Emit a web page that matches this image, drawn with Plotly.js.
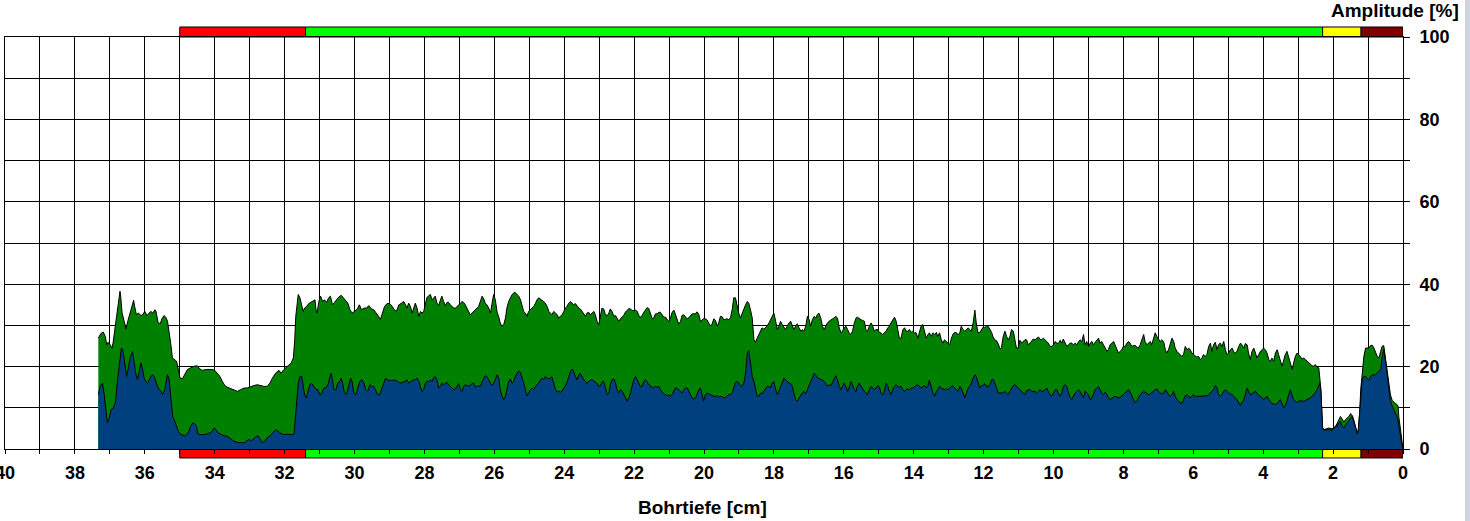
<!DOCTYPE html>
<html>
<head>
<meta charset="utf-8">
<script src="https://cdn.plot.ly/plotly-3.0.1.min.js"></script>
<style>html,body{margin:0;padding:0;background:#fff;}#chart{width:1470px;height:521px;}</style>
</head>
<body>
<div id="chart"></div>
<script>
// ---------- DATA (depth in cm, amplitude in %) ----------
// Segment 1: 37.3 cm .. 28 cm (upper/green envelope)
const depthS1Green = [
37.33,37.26,37.19,37.13,37.09,37.05,36.99,36.94,36.91,36.86,
36.80,36.75,36.71,36.69,36.65,36.59,36.54,36.50,36.44,36.38,
36.32,36.29,36.24,36.18,36.11,36.06,36.00,35.94,35.89,35.83,
35.77,35.71,35.68,35.62,35.56,35.51,35.45,35.40,35.35,35.31,
35.26,35.21,35.14,35.09,35.04,34.99,34.92,34.86,34.78,34.69,
34.59,34.50,34.42,34.35,34.26,34.16,34.07,34.00,33.92,33.85,
33.78,33.71,33.64,33.54,33.45,33.35,33.26,33.16,33.07,32.97,
32.88,32.78,32.69,32.59,32.50,32.42,32.35,32.26,32.16,32.10,
32.02,31.94,31.88,31.81,31.75,31.71,31.68,31.64,31.61,31.56,
31.51,31.47,31.43,31.37,31.31,31.24,31.18,31.13,31.10,31.07,
31.02,30.97,30.91,30.86,30.80,30.74,30.69,30.63,30.57,30.51,
30.45,30.38,30.32,30.26,30.19,30.13,30.07,30.00,29.92,29.86,
29.80,29.73,29.66,29.59,29.52,29.45,29.37,29.31,29.26,29.21,
29.14,29.07,28.99,28.92,28.86,28.80,28.73,28.67,28.59,28.54,
28.50,28.45,28.40,28.35,28.31,28.26,28.21,28.16,28.11,28.07];
const ampS1Green = [
26.9,28.0,28.4,27.3,25.3,25.9,25.3,24.5,25.7,29.0,
32.2,36.2,38.3,37.1,33.0,31.0,29.1,30.6,32.6,34.6,
36.1,34.6,32.6,33.0,32.4,32.6,33.4,32.4,32.8,33.4,
33.0,33.8,33.4,30.7,30.4,31.6,32.4,32.0,31.0,29.0,
25.7,22.1,21.7,21.3,19.3,17.2,17.1,18.0,19.3,19.7,
20.1,20.2,19.4,19.1,19.3,19.3,19.3,19.1,18.4,17.6,
16.4,15.4,15.0,14.6,14.4,14.0,14.4,14.8,14.8,15.2,
15.4,15.6,15.4,15.2,15.2,16.0,17.2,18.4,19.1,18.4,
19.3,19.9,20.2,20.9,22.1,26.5,32.2,36.2,37.5,36.7,
35.0,33.4,34.2,34.6,35.3,35.6,35.8,36.2,33.8,33.0,
35.8,37.1,35.8,36.2,35.6,36.7,37.1,35.0,35.6,36.2,
36.9,37.3,36.7,36.1,35.4,33.8,33.0,33.4,34.0,35.0,
33.8,34.2,34.2,34.8,34.0,33.8,33.0,32.2,31.4,33.0,
34.6,35.3,35.3,34.6,33.8,33.4,35.0,35.3,35.8,35.0,
34.2,35.4,34.6,33.0,34.2,35.4,34.2,32.2,33.4,33.0];

// Segment 1: lower/blue curve
const depthS1Blue = [
37.33,37.28,37.21,37.16,37.11,37.07,37.02,36.97,36.90,36.84,
36.78,36.72,36.67,36.63,36.57,36.52,36.48,36.42,36.35,36.31,
36.26,36.21,36.16,36.11,36.07,36.02,35.97,35.92,35.85,35.79,
35.73,35.68,35.62,35.54,35.49,35.43,35.39,35.35,35.31,35.28,
35.24,35.20,35.14,35.09,35.04,34.99,34.92,34.86,34.80,34.74,
34.69,34.63,34.57,34.52,34.48,34.42,34.35,34.29,34.21,34.13,
34.07,34.02,33.96,33.91,33.83,33.73,33.64,33.54,33.45,33.35,
33.26,33.16,33.09,33.02,32.95,32.90,32.83,32.76,32.70,32.64,
32.57,32.50,32.42,32.35,32.31,32.25,32.19,32.13,32.07,32.00,
31.92,31.85,31.78,31.73,31.70,31.66,31.61,31.56,31.51,31.48,
31.43,31.38,31.33,31.28,31.22,31.16,31.10,31.05,30.99,30.93,
30.88,30.82,30.76,30.71,30.67,30.63,30.59,30.53,30.48,30.42,
30.38,30.34,30.29,30.23,30.17,30.11,30.07,30.02,29.96,29.91,
29.85,29.79,29.73,29.68,29.62,29.56,29.50,29.45,29.39,29.33,
29.28,29.22,29.16,29.11,29.05,28.97,28.90,28.83,28.76,28.69,
28.61,28.54,28.50,28.45,28.38,28.32,28.26,28.21,28.16,28.11,
28.07];
const ampS1Blue = [
13.2,15.2,16.0,13.2,9.1,6.3,7.5,9.5,10.0,11.2,
16.8,20.9,24.5,24.1,19.7,17.6,19.3,22.1,23.7,21.3,
18.4,16.8,19.3,20.9,19.7,17.2,16.4,16.0,17.2,18.0,
17.6,16.4,14.8,14.0,13.2,14.4,16.0,18.0,17.2,14.4,
11.2,7.9,6.7,5.5,4.3,3.7,3.5,3.2,3.5,4.3,
5.5,6.3,6.1,5.5,3.7,3.5,3.5,3.5,3.7,3.9,
4.3,5.1,4.7,3.9,3.6,3.2,3.1,2.4,1.9,1.6,
1.5,1.5,1.9,2.3,2.0,2.4,2.9,3.2,2.4,1.6,
1.9,2.7,3.2,3.9,4.3,4.7,4.3,3.9,3.6,3.5,
3.6,3.5,3.5,3.7,7.1,12.0,16.0,17.6,17.6,16.0,
13.2,12.4,14.0,15.6,15.9,15.2,14.4,14.4,13.2,13.6,
14.8,14.8,15.6,17.2,18.4,16.8,14.4,14.4,16.0,16.4,
17.2,16.0,13.6,13.2,15.2,17.2,16.4,13.6,13.2,14.8,
16.4,16.8,16.0,14.4,14.0,15.6,15.2,15.2,14.0,13.2,
13.2,14.8,16.4,17.2,16.8,16.6,16.7,16.7,16.4,16.0,
16.2,16.4,16.8,16.0,16.4,16.8,16.8,17.2,16.4,14.8,
14.0];

// Segment 2: 28 cm .. 18.6 cm
const depthS2 = [
28.02,27.97,27.93,27.88,27.83,27.78,27.74,27.69,27.64,27.59,
27.54,27.50,27.45,27.40,27.35,27.31,27.26,27.21,27.16,27.11,
27.07,27.02,26.97,26.92,26.88,26.83,26.78,26.73,26.69,26.64,
26.59,26.54,26.49,26.45,26.40,26.35,26.30,26.26,26.21,26.16,
26.11,26.07,26.02,25.97,25.92,25.87,25.83,25.78,25.73,25.68,
25.64,25.59,25.54,25.49,25.44,25.40,25.35,25.30,25.25,25.21,
25.16,25.11,25.06,25.02,24.97,24.92,24.87,24.82,24.78,24.73,
24.68,24.63,24.59,24.54,24.49,24.44,24.40,24.35,24.30,24.25,
24.20,24.16,24.11,24.06,24.01,23.97,23.92,23.87,23.82,23.77,
23.73,23.68,23.63,23.58,23.54,23.49,23.44,23.39,23.35,23.30,
23.25,23.20,23.15,23.11,23.06,23.01,22.96,22.92,22.87,22.82,
22.77,22.72,22.68,22.63,22.58,22.53,22.49,22.44,22.39,22.34,
22.30,22.25,22.20,22.15,22.10,22.06,22.01,21.96,21.91,21.87,
21.82,21.77,21.72,21.68,21.63,21.58,21.53,21.48,21.44,21.39,
21.34,21.29,21.25,21.20,21.15,21.10,21.06,21.01,20.96,20.91,
20.86,20.82,20.77,20.72,20.67,20.63,20.58,20.53,20.48,20.43,
20.39,20.34,20.29,20.24,20.20,20.15,20.10,20.05,20.01,19.96,
19.91,19.86,19.81,19.77,19.72,19.67,19.62,19.58,19.53,19.48,
19.43,19.39,19.34,19.29,19.24,19.19,19.15,19.10,19.05,19.00,
18.96,18.91,18.86,18.81,18.76,18.72,18.67,18.62];
const ampS2Green = [
33.4,35.4,36.7,37.2,37.5,36.2,36.7,37.1,35.4,34.8,
36.2,37.1,35.8,34.8,35.6,35.6,35.0,34.6,34.2,34.2,
34.6,35.0,35.4,35.8,35.6,35.0,34.2,33.4,32.6,33.0,
33.4,33.8,34.2,34.6,35.8,37.1,36.4,35.4,35.0,34.2,
33.0,35.0,37.5,36.2,33.2,32.0,30.6,29.8,30.2,31.8,
34.2,35.8,36.7,37.5,37.9,38.0,37.5,37.1,36.2,34.6,
33.4,33.0,32.2,33.4,33.8,34.0,34.6,35.4,36.2,36.7,
36.4,36.2,35.8,35.4,34.6,33.4,33.0,32.6,33.4,33.0,
32.6,31.8,32.2,32.6,33.4,34.2,34.6,35.4,35.8,35.4,
35.0,35.3,34.6,34.2,34.0,33.4,32.6,32.2,33.0,33.2,
32.6,33.0,33.4,32.6,31.0,30.2,32.6,34.2,34.0,32.6,
32.4,33.0,34.0,33.4,32.2,32.4,31.8,31.0,31.6,32.0,
32.4,33.2,33.7,34.1,34.0,33.6,33.6,33.7,33.4,32.5,
32.0,32.4,33.2,33.7,34.3,34.1,33.0,31.6,31.8,32.8,
32.8,33.2,33.2,32.5,32.0,32.0,31.6,30.9,31.8,33.2,
33.7,32.8,31.4,30.3,31.0,32.4,32.6,32.0,31.6,31.9,
32.2,32.8,32.8,32.9,33.3,32.7,30.9,31.4,31.7,31.6,
31.3,30.5,29.9,30.3,31.6,31.2,29.8,30.6,32.2,32.1,
31.3,31.5,31.6,31.4,31.9,34.0,36.7,36.7,34.5,32.8,
31.8,33.0,33.8,35.0,35.8,35.4,33.8,31.8];
const ampS2Blue = [
14.4,16.0,16.4,16.4,16.8,16.4,17.2,17.6,16.8,14.8,
15.2,16.0,15.6,16.0,16.2,15.6,15.2,14.8,14.4,14.6,
15.2,15.9,14.4,14.0,15.2,15.6,15.4,15.2,15.4,15.9,
16.0,15.0,15.2,15.4,15.2,16.4,17.2,17.8,17.5,16.8,
16.0,15.4,15.9,17.2,18.0,17.2,14.4,12.8,12.0,12.8,
14.8,16.4,17.0,16.0,16.4,17.6,18.4,18.9,18.6,17.6,
16.0,14.4,12.9,13.6,14.4,14.8,14.4,15.2,15.6,16.0,
16.8,17.2,16.8,17.6,17.2,17.0,17.2,17.5,16.0,14.4,
13.8,14.0,13.8,14.0,14.8,15.2,16.2,17.6,18.9,19.4,
18.9,17.6,16.8,18.0,18.4,17.6,16.8,16.4,15.9,16.4,
16.8,16.8,16.4,16.2,15.9,15.2,15.4,16.2,16.4,14.8,
13.2,13.6,15.6,16.8,17.0,16.0,14.4,13.6,14.4,14.0,
13.2,12.4,11.6,12.4,13.6,15.2,16.8,17.6,16.8,16.0,
15.2,15.2,16.4,16.8,16.4,15.6,15.4,14.8,15.0,15.2,
15.0,15.2,14.4,13.8,13.4,13.2,12.9,13.2,12.8,13.2,
14.0,14.8,14.8,14.4,14.0,13.6,14.4,14.8,14.8,14.0,
13.2,12.4,12.1,12.4,13.2,14.4,14.8,13.2,11.6,13.2,
13.6,13.4,13.2,12.9,12.8,12.8,12.9,12.6,12.8,12.8,
12.4,12.4,12.9,13.2,13.2,13.6,14.8,16.2,16.4,16.0,
15.4,15.2,16.0,18.4,23.3,23.9,20.9,17.6];

// Segment 3: 18.6 cm .. 9.1 cm
const depthS3 = [
18.57,18.53,18.48,18.43,18.38,18.34,18.29,18.24,18.19,18.14,
18.10,18.05,18.00,17.95,17.90,17.86,17.81,17.76,17.71,17.67,
17.62,17.57,17.52,17.47,17.43,17.38,17.33,17.28,17.23,17.19,
17.14,17.09,17.04,16.99,16.95,16.90,16.85,16.80,16.76,16.71,
16.66,16.61,16.56,16.52,16.47,16.42,16.37,16.32,16.28,16.23,
16.18,16.13,16.08,16.04,15.99,15.94,15.89,15.85,15.80,15.75,
15.70,15.65,15.61,15.56,15.51,15.46,15.41,15.37,15.32,15.27,
15.22,15.17,15.13,15.08,15.03,14.98,14.94,14.89,14.84,14.79,
14.74,14.70,14.65,14.60,14.55,14.50,14.46,14.41,14.36,14.31,
14.26,14.22,14.17,14.12,14.07,14.03,13.98,13.93,13.88,13.83,
13.79,13.74,13.69,13.64,13.59,13.55,13.50,13.45,13.40,13.35,
13.31,13.26,13.21,13.16,13.12,13.07,13.02,12.97,12.92,12.88,
12.83,12.78,12.73,12.68,12.64,12.59,12.54,12.49,12.44,12.40,
12.35,12.30,12.25,12.21,12.16,12.11,12.06,12.01,11.97,11.92,
11.87,11.82,11.77,11.73,11.68,11.63,11.58,11.53,11.49,11.44,
11.39,11.34,11.30,11.25,11.20,11.15,11.10,11.06,11.01,10.96,
10.91,10.86,10.82,10.77,10.72,10.67,10.63,10.58,10.53,10.48,
10.43,10.39,10.34,10.29,10.24,10.19,10.15,10.10,10.05,10.00,
9.95,9.91,9.86,9.81,9.76,9.72,9.67,9.62,9.57,9.52,
9.48,9.43,9.38,9.33,9.28,9.24,9.19,9.14];
const ampS3Green = [
26.5,25.9,26.9,27.8,29.0,29.4,29.1,29.4,29.9,30.6,
31.4,32.2,33.0,31.0,29.0,29.8,31.0,30.2,29.4,29.0,
29.8,30.6,31.0,29.8,29.0,29.8,30.4,29.4,28.6,29.0,
28.6,29.8,32.2,31.4,29.8,31.4,32.2,31.8,32.6,33.0,
31.8,29.8,29.0,29.8,30.6,31.0,31.4,31.6,31.8,32.2,
31.8,29.4,28.2,28.6,29.4,29.8,29.0,28.2,27.8,28.6,
30.6,31.8,32.0,31.6,31.4,31.2,31.0,29.0,28.6,29.8,
30.6,29.8,28.6,29.0,29.0,28.3,28.2,27.8,28.2,28.6,
29.4,29.8,30.6,31.4,32.0,31.0,29.0,26.9,26.9,29.0,
29.4,28.6,28.6,29.0,28.3,28.6,28.2,28.2,26.9,28.2,
29.8,30.2,28.2,26.9,27.8,28.2,27.3,28.2,27.8,28.3,
27.3,28.2,26.5,25.7,26.5,26.1,25.7,25.3,26.9,27.8,
28.3,28.2,27.8,28.2,29.8,29.0,28.6,29.0,29.4,29.0,
28.6,30.6,33.7,30.6,28.2,28.3,29.0,29.6,29.5,29.8,
29.8,29.1,28.3,27.2,26.5,26.3,25.5,24.3,24.5,27.3,
28.6,27.3,26.5,27.2,29.0,28.6,26.5,24.5,24.5,26.4,
25.7,26.1,26.5,26.5,25.3,25.7,26.1,26.7,26.5,26.9,
27.2,26.7,26.5,26.9,26.5,26.1,25.7,24.9,24.9,25.3,
26.1,25.7,25.6,26.4,25.7,26.7,25.7,24.9,25.3,25.7,
25.7,25.3,25.7,25.3,26.1,26.5,26.1,27.8];
const ampS3Blue = [
16.4,14.8,12.8,12.8,13.6,13.4,14.0,14.4,15.2,15.2,
14.8,16.0,16.4,14.4,13.2,14.0,15.2,16.4,17.2,16.8,
16.4,16.0,15.9,15.2,13.6,12.0,11.6,12.4,13.2,13.6,
14.0,13.4,14.4,15.6,16.4,17.2,18.4,18.0,17.2,17.2,
16.8,16.8,16.4,16.0,15.2,15.6,15.4,16.4,17.2,17.8,
16.8,15.2,14.4,15.2,16.0,15.2,14.0,14.8,16.4,15.6,
14.4,14.0,15.2,16.0,15.2,14.6,14.0,13.6,13.2,14.4,
15.2,14.8,14.4,14.8,15.4,15.0,13.6,13.2,14.0,16.0,
15.2,14.0,13.2,14.4,15.2,15.6,15.2,15.0,15.2,14.4,
14.0,14.4,14.6,14.4,14.8,14.8,15.2,15.4,15.6,15.0,
14.8,15.2,15.4,14.8,15.4,16.7,15.2,13.6,12.8,14.0,
14.4,15.2,14.8,14.6,14.4,14.6,14.4,14.8,15.2,15.4,
14.8,14.4,14.0,15.2,14.8,13.6,12.4,13.6,14.8,15.2,
16.0,17.2,18.0,17.6,16.0,14.8,15.4,15.4,15.9,15.2,
15.2,15.6,16.8,17.0,16.0,14.8,13.6,13.6,13.6,13.6,
14.0,13.6,13.2,14.0,14.8,15.4,15.6,15.2,14.8,14.4,
14.0,13.6,13.2,14.2,14.4,14.4,14.0,14.0,14.0,13.6,
14.0,14.4,14.0,14.0,14.4,14.8,14.0,13.2,12.8,13.6,
14.4,14.4,13.6,12.8,13.6,15.2,15.6,15.2,13.6,12.4,
12.0,12.8,13.6,14.0,14.4,14.0,13.2,12.4];

// Segment 4: 9.1 cm .. 0 cm
const depthS4 = [
9.10,9.05,9.00,8.95,8.90,8.86,8.81,8.76,8.71,8.67,
8.62,8.57,8.52,8.47,8.43,8.38,8.33,8.28,8.24,8.19,
8.14,8.09,8.05,8.00,7.95,7.90,7.85,7.81,7.76,7.71,
7.66,7.62,7.57,7.52,7.47,7.42,7.38,7.33,7.28,7.23,
7.19,7.14,7.09,7.04,6.99,6.95,6.90,6.85,6.80,6.76,
6.71,6.66,6.61,6.56,6.52,6.47,6.42,6.37,6.33,6.28,
6.23,6.18,6.13,6.09,6.04,5.99,5.94,5.90,5.85,5.80,
5.75,5.71,5.66,5.61,5.56,5.51,5.47,5.42,5.37,5.32,
5.28,5.23,5.18,5.13,5.08,5.04,4.99,4.94,4.89,4.85,
4.80,4.75,4.70,4.65,4.61,4.56,4.51,4.46,4.42,4.37,
4.32,4.27,4.22,4.18,4.13,4.08,4.03,3.99,3.94,3.89,
3.84,3.79,3.75,3.70,3.65,3.60,3.56,3.51,3.46,3.41,
3.37,3.32,3.27,3.22,3.17,3.13,3.08,3.03,2.98,2.94,
2.89,2.84,2.79,2.74,2.70,2.65,2.60,2.55,2.51,2.46,
2.41,
2.38,2.35,2.32,2.30,2.26,2.20,2.12,2.03,1.93,1.88,
1.84,1.79,1.74,1.69,1.65,1.60,1.55,1.50,1.45,1.41,
1.36,1.31,1.28,1.24,1.21,1.17,1.12,1.07,1.02,0.98,
0.93,0.88,0.83,0.79,0.74,0.69,0.64,0.60,0.55,0.50,
0.45,0.40,0.36,0.31,0.26,0.21,0.17,0.14,0.12,0.07,
0.04,0.02,0.00];
const ampS4Green = [
25.3,26.1,24.9,25.7,26.1,25.3,25.9,26.5,26.9,25.7,
26.1,25.3,24.5,23.7,24.1,25.3,25.7,26.1,25.3,24.1,
23.3,23.7,24.1,24.9,24.9,25.7,26.1,25.7,24.9,25.1,
25.1,24.8,24.5,25.3,26.9,27.8,26.1,25.3,25.7,26.1,
25.3,26.9,28.2,27.3,26.5,26.1,26.5,26.1,24.1,23.3,
24.1,25.3,26.9,26.1,24.5,23.7,23.3,22.9,22.5,22.9,
24.9,24.1,24.5,24.1,23.3,22.9,22.5,22.3,22.5,21.7,
22.1,22.9,22.5,22.9,24.9,25.7,23.7,25.3,25.9,24.1,
25.3,25.7,24.9,26.1,24.1,22.9,23.3,24.1,24.5,23.7,
23.3,23.7,24.9,25.7,25.3,24.5,25.6,25.3,23.3,21.7,
23.7,24.5,23.3,22.1,22.9,23.7,24.1,24.5,24.1,23.3,
21.7,21.3,22.1,21.3,23.3,24.1,22.9,21.3,20.1,21.7,
22.9,23.7,22.1,20.5,19.3,20.9,22.5,23.3,22.9,22.5,
21.8,22.1,21.7,21.3,20.9,20.7,20.2,20.1,20.5,19.9,
19.7,
17.2,14.4,8.7,5.1,4.7,4.9,5.1,4.9,5.5,6.3,
7.1,7.9,7.3,6.5,7.1,7.5,7.9,8.6,8.1,7.1,
5.5,3.9,4.7,8.7,14.4,17.6,22.5,24.5,24.4,24.5,
25.1,25.2,24.5,23.7,22.5,22.1,23.7,24.9,25.1,22.1,
18.4,15.4,13.2,11.8,11.3,11.0,10.8,10.4,7.9,3.9,
1.5,0.2,0];
const ampS4Blue = [
14.0,13.6,13.2,12.0,12.4,13.2,14.4,14.8,15.2,14.4,
13.6,13.2,13.8,13.2,12.4,12.0,12.4,12.6,12.8,12.6,
12.4,12.6,12.8,13.2,13.6,14.0,14.4,13.8,12.8,12.0,
11.3,11.6,12.4,13.2,13.6,14.0,13.8,13.6,13.2,13.4,
13.6,14.0,14.4,14.6,14.0,13.6,13.4,13.6,14.4,14.0,
13.2,12.8,13.2,14.0,12.8,12.0,11.6,11.2,11.0,12.0,
12.9,13.2,12.6,12.4,12.8,13.2,12.6,12.8,12.8,12.8,
12.9,12.8,12.8,12.9,13.2,13.6,14.0,14.4,15.4,14.8,
13.2,12.8,13.2,14.0,14.4,14.0,13.6,13.4,13.2,12.8,
12.4,12.0,11.2,10.5,11.3,11.8,13.2,14.8,14.0,13.2,
13.4,13.6,14.0,13.6,12.9,12.8,12.4,12.1,12.4,12.8,
12.0,11.3,11.0,11.0,10.8,11.0,11.6,12.0,11.0,10.0,
10.5,11.6,13.2,14.4,12.9,12.0,11.6,11.3,11.6,11.8,
11.6,11.6,11.8,12.0,12.1,12.4,12.8,13.2,13.6,14.4,
15.2,
16.0,14.4,8.7,5.1,4.5,4.7,4.7,4.5,5.5,5.5,
6.3,6.7,5.5,5.1,5.7,6.3,7.1,7.5,7.9,6.7,
4.7,3.7,4.3,8.3,12.8,16.8,17.6,17.6,17.0,16.7,
17.6,18.0,18.0,18.0,18.4,18.9,19.3,22.1,24.1,21.3,
17.6,14.4,11.8,10.4,9.4,8.7,7.8,6.7,5.9,3.1,
1.3,0.2,0];

// Quality zones along depth (colour bars above and below the plot)
const zoneFrom  = [35, 31.4, 2.3, 1.2];
const zoneTo    = [31.4, 2.3, 1.2, 0];
const zoneColor = ['#ff0000', '#00ff00', '#ffff00', '#800000'];

// Ticks
const xTickVals = [0,1,2,3,4,5,6,7,8,9,10,11,12,13,14,15,16,17,18,19,20,21,22,23,24,25,26,27,28,29,30,31,32,33,34,35,36,37,38,39,40];
const xTickText = ['0','','2','','4','','6','','8','','10','','12','','14','','16','','18','','20','','22','','24','','26','','28','','30','','32','','34','','36','','38','','40'];
const yTickVals = [0,10,20,30,40,50,60,70,80,90,100];
const yTickText = ['0','','20','','40','','60','','80','','100'];

const xTitle = 'Bohrtiefe [cm]';
const yTitle = 'Amplitude [%]';

// ---------- BUILD ----------
function joinSegs(pairs) {
  let xs = [], ys = [];
  pairs.forEach(([a, b]) => {
    const n = Math.min(a.length, b.length);
    xs = xs.concat(a.slice(0, n));
    ys = ys.concat(b.slice(0, n));
  });
  return [xs, ys];
}
const [gx, gy] = joinSegs([[depthS1Green, ampS1Green], [depthS2, ampS2Green], [depthS3, ampS3Green], [depthS4, ampS4Green]]);
const [bx, by] = joinSegs([[depthS1Blue, ampS1Blue], [depthS2, ampS2Blue], [depthS3, ampS3Blue], [depthS4, ampS4Blue]]);

const FONT = 'Liberation Sans, Arial, sans-serif';

const traces = [
  {x: gx, y: gy, type: 'scatter', mode: 'lines', fill: 'tozeroy',
   fillcolor: '#008000', line: {color: '#000000', width: 1}, hoverinfo: 'skip'},
  {x: bx, y: by, type: 'scatter', mode: 'lines', fill: 'tozeroy',
   fillcolor: '#00407f', line: {color: '#000000', width: 1}, hoverinfo: 'skip'}
];

const shapes = [];
for (let i = 0; i < zoneFrom.length; i++) {
  shapes.push({type: 'rect', xref: 'x', yref: 'paper', x0: zoneFrom[i], x1: zoneTo[i],
    y0: 1.0, y1: 1.0243, fillcolor: zoneColor[i], line: {color: '#000', width: 1}, layer: 'below'});
  shapes.push({type: 'rect', xref: 'x', yref: 'paper', x0: zoneFrom[i], x1: zoneTo[i],
    y0: -0.0218, y1: 0, fillcolor: zoneColor[i], line: {color: '#000', width: 1}, layer: 'below'});
}
// window edge strip on the far right
shapes.push({type: 'rect', xref: 'paper', yref: 'paper', x0: 1.0443, x1: 1.05, y0: -0.2, y1: 1.1,
  fillcolor: '#cdd3df', line: {width: 0}, layer: 'above'});

const tickFont = {family: FONT, size: 18, color: '#000', weight: 'bold'};

const layout = {
  width: 1470, height: 521,
  margin: {l: 5, r: 67, t: 37, b: 72, pad: 0},
  paper_bgcolor: '#ffffff', plot_bgcolor: '#ffffff',
  showlegend: false,
  xaxis: {
    range: [40, 0], tickmode: 'array', tickvals: xTickVals, ticktext: xTickText,
    ticks: 'outside', ticklen: 4, tickcolor: '#000', tickwidth: 1,
    showgrid: true, gridcolor: '#000', gridwidth: 1, zeroline: false,
    showline: true, mirror: true, linecolor: '#000', linewidth: 1,
    tickfont: tickFont, ticklabelstandoff: 3, ticklabeloverflow: 'allow', fixedrange: true
  },
  yaxis: {
    range: [0, 100], side: 'right', tickmode: 'array', tickvals: yTickVals, ticktext: yTickText,
    ticks: 'outside', ticklen: 6, tickcolor: '#000', tickwidth: 1,
    showgrid: true, gridcolor: '#000', gridwidth: 1, zeroline: false,
    showline: true, mirror: true, linecolor: '#000', linewidth: 1,
    tickfont: tickFont, ticklabelstandoff: 6, fixedrange: true
  },
  shapes: shapes,
  annotations: [
    {text: xTitle, xref: 'paper', yref: 'paper', x: 0.4986, y: -0.143, xanchor: 'center', yanchor: 'middle',
     showarrow: false, font: {family: FONT, size: 19, color: '#000', weight: 'bold'}},
    {text: yTitle, xref: 'paper', yref: 'paper', x: 1.0415, y: 1.064, xanchor: 'right', yanchor: 'middle',
     showarrow: false, font: {family: FONT, size: 19, color: '#000', weight: 'bold'}}
  ]
};

Plotly.newPlot('chart', traces, layout, {staticPlot: true, displayModeBar: false});
</script>
</body>
</html>
